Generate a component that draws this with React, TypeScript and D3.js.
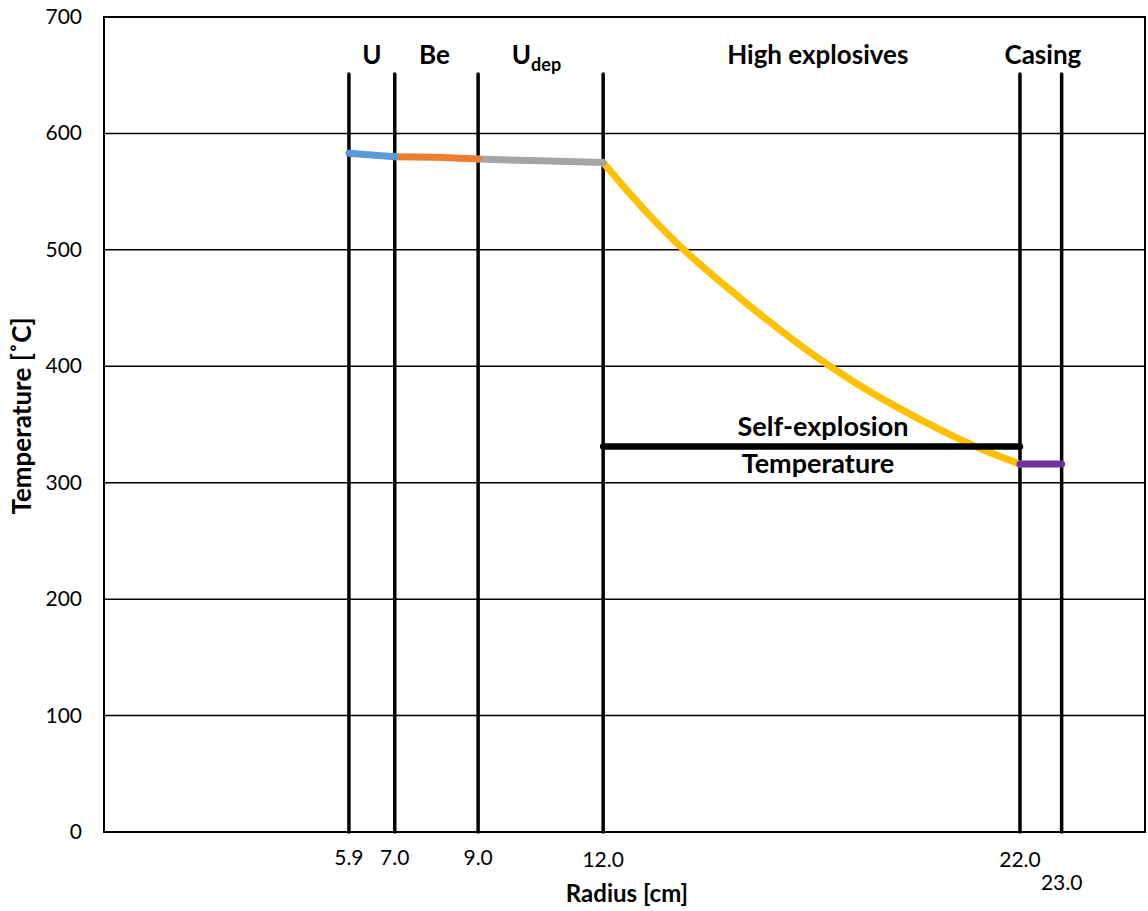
import React, {useEffect, useRef} from 'react'
import * as d3 from 'd3'

// layer boundaries (radius, cm)
const boundaries = [5.9, 7.0, 9.0, 12.0, 22.0, 23.0]
const yTicks = [0, 100, 200, 300, 400, 500, 600, 700]

// temperature profile per layer
const uData = [{x: 5.9, y: 583}, {x: 7.0, y: 580}]
const beData = [{x: 7.0, y: 580}, {x: 8.0, y: 579.5}, {x: 9.0, y: 578}]
const udepData = [{x: 9.0, y: 578}, {x: 10.5, y: 576.5}, {x: 12.0, y: 575}]
const heRadius = [12, 13, 14, 15, 16, 17, 18, 19, 20, 21, 22]
const heTemp = [575, 534, 498, 467, 438, 411, 387, 366, 347, 330, 316]
const casingData = [{x: 22.0, y: 316}, {x: 23.0, y: 316}]
const selfExplosion = [{x: 12.0, y: 331}, {x: 22.0, y: 331}]

const layerLabels = [
    {text: 'U', x: 6.45},
    {text: 'Be', x: 7.95},
    {text: 'U', sub: 'dep', x: 10.4},
    {text: 'High explosives', x: 17.15},
    {text: 'Casing', x: 22.55},
]

export default function App() {
    const ref = useRef(null)
    const w = 1148
    const h = 911

    useEffect(() => {
        const svg = d3.select(ref.current)
        const font = 'Lato, "Open Sans", sans-serif'

        const x = d3.scaleLinear().domain([0, 25]).range([103, 1145])
        const y = d3.scaleLinear().domain([0, 700]).range([832, 17])

        const g = svg.append('g')

        // horizontal grid lines
        g.selectAll('.grid')
            .data(yTicks)
            .enter()
            .append('line')
            .attr('x1', 104)
            .attr('x2', 1145)
            .attr('y1', d => y(d))
            .attr('y2', d => y(d))
            .attr('stroke', 'black')
            .attr('stroke-width', 1.5)

        // plot border
        g.append('rect')
            .attr('x', 104)
            .attr('y', y(700))
            .attr('width', 1145 - 104)
            .attr('height', y(0) - y(700))
            .attr('fill', 'none')
            .attr('stroke', 'black')
            .attr('stroke-width', 2)

        // y tick labels
        g.selectAll('.ytick')
            .data(yTicks)
            .enter()
            .append('text')
            .attr('x', 82)
            .attr('y', d => y(d) + 7)
            .attr('text-anchor', 'end')
            .attr('font-family', font)
            .attr('font-size', 21)
            .text(d => d)

        // boundary verticals
        g.selectAll('.bound')
            .data(boundaries)
            .enter()
            .append('line')
            .attr('x1', d => x(d))
            .attr('x2', d => x(d))
            .attr('y1', y(0))
            .attr('y2', y(651))
            .attr('stroke', 'black')
            .attr('stroke-width', 3.5)
            .attr('stroke-linecap', 'round')

        // x tick labels (23.0 sits lower)
        g.selectAll('.xtick')
            .data(boundaries)
            .enter()
            .append('text')
            .attr('x', d => x(d))
            .attr('y', (d, i) => i === boundaries.length - 1 ? 890 : (d >= 12 ? 867 : 865))
            .attr('text-anchor', 'middle')
            .attr('font-family', font)
            .attr('font-size', 21)
            .text(d => d.toFixed(1))

        const line = d3.line()
            .x(d => x(d.x))
            .y(d => y(d.y))

        const heData = heRadius.map((r, i) => ({x: r, y: heTemp[i]}))

        const series = [
            {data: heData, color: '#FFC000', curve: d3.curveCatmullRom},
            {data: udepData, color: '#A5A5A5', curve: d3.curveLinear},
            {data: beData, color: '#ED7D31', curve: d3.curveLinear},
            {data: uData, color: '#5B9BD5', curve: d3.curveLinear},
            {data: casingData, color: '#7030A0', curve: d3.curveLinear},
        ]

        series.forEach(s => {
            g.append('path')
                .datum(s.data)
                .attr('d', line.curve(s.curve))
                .attr('fill', 'none')
                .attr('stroke', s.color)
                .attr('stroke-width', 7)
                .attr('stroke-linecap', 'round')
        })

        // self-explosion temperature line
        g.append('path')
            .datum(selfExplosion)
            .attr('d', line.curve(d3.curveLinear))
            .attr('fill', 'none')
            .attr('stroke', 'black')
            .attr('stroke-width', 6.5)
            .attr('stroke-linecap', 'round')

        // layer names
        layerLabels.forEach(l => {
            const t = g.append('text')
                .attr('x', x(l.x))
                .attr('y', 64)
                .attr('text-anchor', 'middle')
                .attr('font-family', font)
                .attr('font-weight', 'bold')
                .attr('font-size', 26)
                .text(l.text)
            if (l.sub) {
                t.append('tspan')
                    .attr('dy', 7)
                    .attr('font-size', 18)
                    .text(l.sub)
            }
        })

        // self-explosion annotation
        g.append('text')
            .attr('x', 823)
            .attr('y', 436)
            .attr('text-anchor', 'middle')
            .attr('font-family', font)
            .attr('font-weight', 'bold')
            .attr('font-size', 27)
            .text('Self-explosion')

        g.append('text')
            .attr('x', 818)
            .attr('y', 473)
            .attr('text-anchor', 'middle')
            .attr('font-family', font)
            .attr('font-weight', 'bold')
            .attr('font-size', 27)
            .text('Temperature')

        // axis titles
        g.append('text')
            .attr('x', 627)
            .attr('y', 902)
            .attr('text-anchor', 'middle')
            .attr('font-family', font)
            .attr('font-weight', 'bold')
            .attr('font-size', 24)
            .text('Radius [cm]')

        g.append('text')
            .attr('transform', 'translate(31, 416) rotate(-90)')
            .attr('text-anchor', 'middle')
            .attr('font-family', font)
            .attr('font-weight', 'bold')
            .attr('font-size', 26)
            .text('Temperature [˚C]')

        return () => {
            svg.selectAll('*').remove()
        }
    }, [])

    return (
        <svg
            ref={ref}
            width={w}
            height={h}
            style={{position: 'absolute', left: 0, top: 0, background: 'white'}}
        />
    )
}
